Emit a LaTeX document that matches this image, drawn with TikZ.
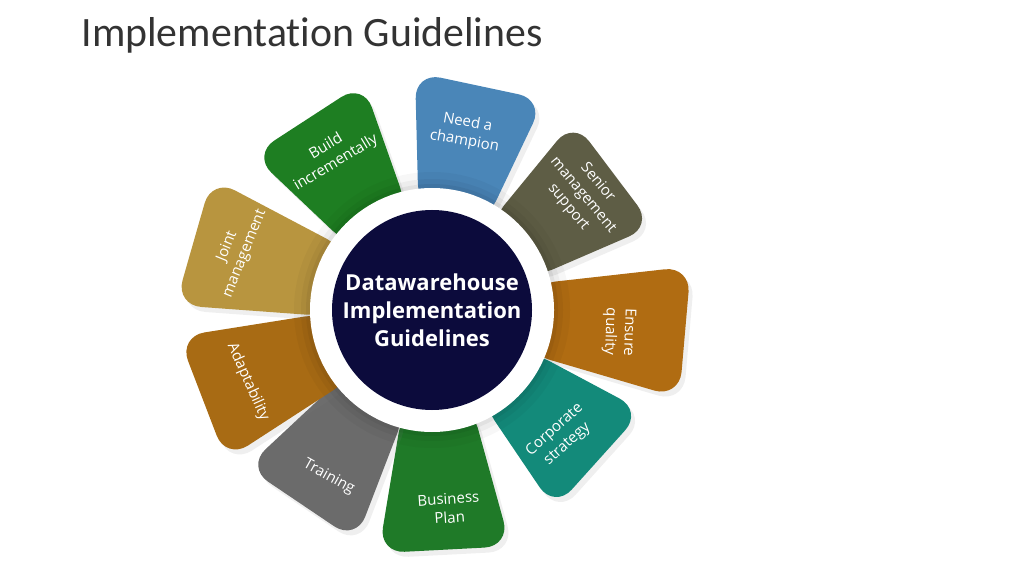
\documentclass[tikz,border=0pt]{standalone}
\usepackage{fontspec}
\setmainfont{Open Sans}
\newfontfamily\titlefont[Ligatures=NoCommon]{Carlito}
\usepackage{tikz}
\usetikzlibrary{shadows}
\definecolor{hubNavy}{HTML}{0C0B3C}
\definecolor{champBlue}{HTML}{4A86B8}
\definecolor{seniorOlive}{HTML}{5E5D45}
\definecolor{qualityOrange}{HTML}{B06C12}
\definecolor{strategyTeal}{HTML}{138A7A}
\definecolor{planGreen}{HTML}{1F7A28}
\definecolor{trainGray}{HTML}{6B6B6B}
\definecolor{adaptBrown}{HTML}{A86B14}
\definecolor{jointTan}{HTML}{B8953F}
\definecolor{buildGreen}{HTML}{1E7E22}

\begin{document}
\begin{tikzpicture}[
    x=1pt, y=1pt,
    petal/.style={rounded corners=26pt, drop shadow={shadow xshift=4pt, shadow yshift=-5pt, opacity=0.13}},
    petaltext/.style={text=white, align=center, font=\fontsize{15}{19}\selectfont},
    hub/.style={circle, fill=hubNavy, minimum size=200pt, inner sep=0pt, text=white, align=center, font=\fontsize{22}{28}\selectfont\bfseries},
    ring/.style={circle, fill=white, minimum size=244pt, inner sep=0pt},
    halo/.style={fill=black, opacity=#1},
]
    \useasboundingbox (0,0) rectangle (1024,576);
    \coordinate (c) at (432,266);

    % Title
    \node[anchor=base west, font=\titlefont\fontsize{41.8}{48}\selectfont, text=black!80] (title) at (78,529) {Implementation Guidelines};

    % Petals
    \foreach \a/\len/\col in {78/229/champBlue, 37/227/seniorOlive, -5/254/qualityOrange, -42/224/strategyTeal, -87/240/planGreen, -124/234/trainGray, -159/246/adaptBrown, 164/248/jointTan, 123/228/buildGreen}
        \fill[petal, fill=\col, shift={(c)}, rotate=\a-90] (-34,95) -- (-66,\len) -- (66,\len) -- (34,95) -- cycle;

    % Hub
    \fill[halo=0.03] (c) circle (138);
    \fill[halo=0.04] (c) circle (131);
    \fill[halo=0.05] (c) circle (126);
    \node[ring] (ring) at (c) {};
    \node[hub] (hub) at (c) {Datawarehouse\\Implementation\\Guidelines};

    % Labels
    \node[petaltext, rotate=-10] (champion) at (466,444) {Need a\\champion};
    \node[petaltext, rotate=-50] (senior) at (583,381) {Senior\\management\\support};
    \node[petaltext, rotate=-92] (quality) at (619,244) {Ensure\\quality};
    \node[petaltext, rotate=42] (strategy) at (561,139) {Corporate\\strategy};
    \node[petaltext, rotate=4] (plan) at (449,68) {Business\\Plan};
    \node[petaltext, rotate=-29] (training) at (329,99) {Training};
    \node[petaltext, rotate=-66] (adapt) at (248,194) {Adaptability};
    \node[petaltext, rotate=68] (joint) at (236,326) {Joint\\management};
    \node[petaltext, rotate=31] (build) at (331,421) {Build\\incrementally};
\end{tikzpicture}
\end{document}
